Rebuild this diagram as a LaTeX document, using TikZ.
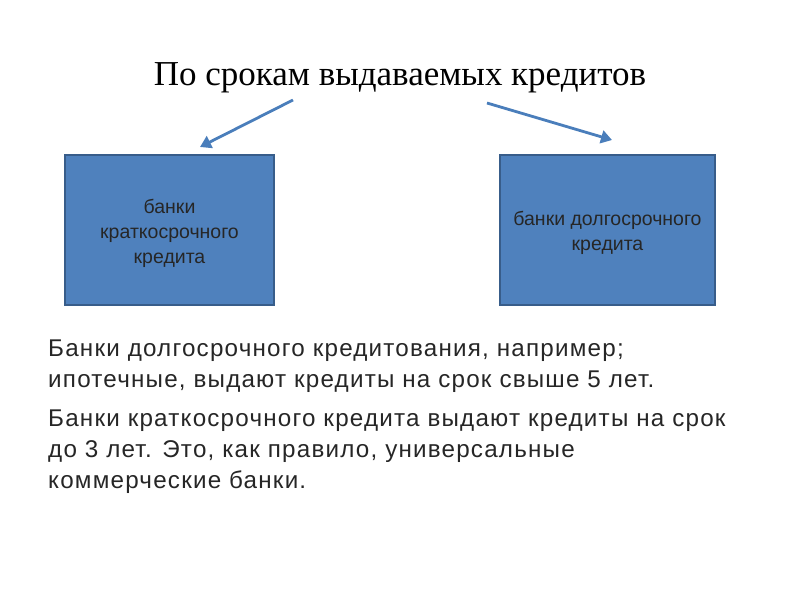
\documentclass[tikz,border=0pt]{standalone}
\usepackage{fontspec}
\setmainfont{Liberation Serif}
\newfontfamily\arialf{Liberation Sans}
\newfontfamily\arialsp[LetterSpace=5]{Liberation Sans}
\usetikzlibrary{arrows.meta}
\definecolor{boxfill}{HTML}{4F81BD}
\definecolor{boxline}{HTML}{385D8A}
\definecolor{arrowc}{HTML}{4A7EBB}
\tikzset{
  bankbox/.style={draw=boxline, line width=1.2pt, fill=boxfill, minimum width=209pt, minimum height=150pt, inner sep=0pt},
  boxlabel/.style={inner sep=0pt, align=center, font=\arialf\fontsize{19.5}{25}\selectfont, text=black!85},
  blarrow/.style={draw=arrowc, line width=2.8pt, -{Triangle[length=11pt,width=13pt]}},
  bodyline/.style={anchor=base west, inner sep=0pt, font=\arialsp\fontsize{24.2}{26}\selectfont, text=black!85}
}
\begin{document}
\begin{tikzpicture}[x=1pt,y=-1pt]
\useasboundingbox (0,0) rectangle (800,600);
\node[anchor=base, inner sep=0pt] (title) at (400,85) {\fontsize{35}{40}\selectfont По срокам выдаваемых кредитов};
\node[bankbox] (short) at (169.5,230) {};
\node[bankbox, minimum width=215pt] (long) at (607.5,230) {};
\node[boxlabel] (shortl) at (169.5,233) {банки\\краткосрочного\\кредита};
\node[boxlabel] (longl) at (607.5,233) {банки долгосрочного\\кредита};
\coordinate (ls) at (293,100);
\coordinate (rs) at (487,103);
\coordinate (le) at (200,147);
\coordinate (re) at (612,140);
\draw[blarrow] (ls) -- (le);
\draw[blarrow] (rs) -- (re);
\node[bodyline] (p1a) at (48,356) {Банки долгосрочного кредитования, например;};
\node[bodyline] (p1b) at (48,387) {ипотечные, выдают кредиты на срок свыше 5 лет.};
\node[bodyline] (p2a) at (48,426) {Банки краткосрочного кредита выдают кредиты на срок};
\node[bodyline] (p2b) at (48,457) {до 3 лет. Это, как правило, универсальные};
\node[bodyline] (p2c) at (48,488) {коммерческие банки.};
\end{tikzpicture}
\end{document}
